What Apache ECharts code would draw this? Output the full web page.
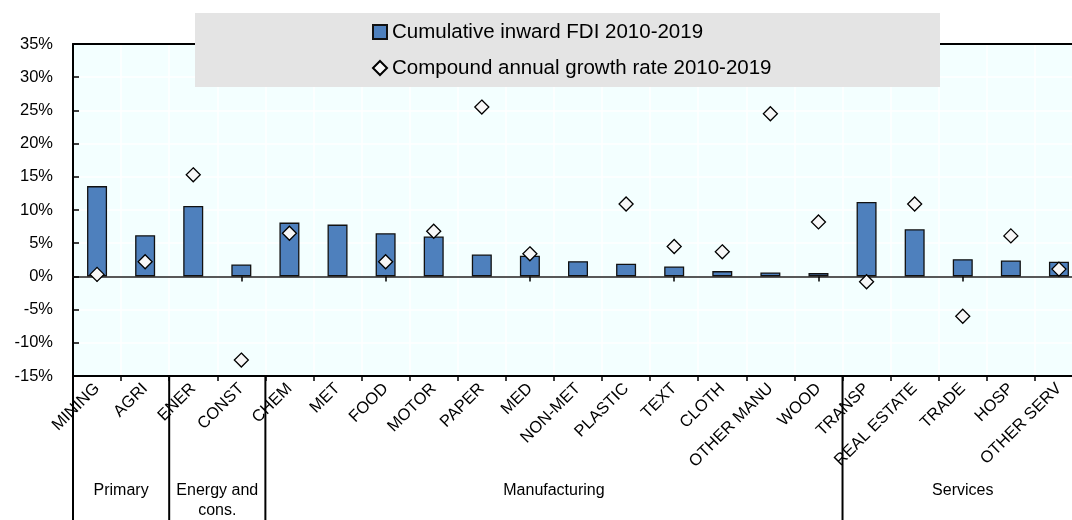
<!DOCTYPE html>
<html>
<head>
<meta charset="utf-8">
<script src="https://cdn.jsdelivr.net/npm/echarts@6/dist/echarts.min.js"></script>
<style>
  html, body { margin: 0; padding: 0; background: #fff; }
  #chart { width: 1072px; height: 520px; }
</style>
</head>
<body>
<div id="chart"></div>
<script>
// Sectors, grouped by broad activity
const categories = ['MINING', 'AGRI', 'ENER', 'CONST', 'CHEM', 'MET', 'FOOD', 'MOTOR', 'PAPER', 'MED',
  'NON-MET', 'PLASTIC', 'TEXT', 'CLOTH', 'OTHER MANU', 'WOOD', 'TRANSP', 'REAL ESTATE', 'TRADE', 'HOSP', 'OTHER SERV'];

// Share of cumulative inward FDI 2010-2019 (%)
const fdiShare = [13.6, 6.2, 10.6, 1.8, 8.1, 7.8, 6.5, 6.0, 3.3, 3.1,
  2.3, 1.9, 1.5, 0.8, 0.6, 0.5, 11.2, 7.1, 2.6, 2.4, 2.2];

// Compound annual growth rate 2010-2019 (%)
const cagr = [0.3, 2.2, 15.3, -12.6, 6.5, null, 2.2, 6.8, 25.5, 3.4,
  null, 10.9, 4.5, 3.7, 24.5, 8.2, -0.8, 10.9, -6.0, 6.1, 1.1];

// Sector groups: label and number of categories they span
const groupNames = ['Primary', 'Energy and\ncons.', 'Manufacturing', 'Services'];
const groupSizes = [2, 2, 12, 5];

const seriesNames = ['Cumulative inward FDI 2010-2019', 'Compound annual growth rate 2010-2019'];
const yMin = -15, yMax = 35, yStep = 5;

const FONT = "'Liberation Sans', Arial, sans-serif";
const BLUE = '#4E80BD';

const chart = echarts.init(document.getElementById('chart'), null, { renderer: 'canvas' });

const option = {
  animation: false,
  textStyle: { fontFamily: FONT, color: '#000' },
  grid: {
    left: 73, top: 44, width: 1010, height: 332,
    outerBoundsMode: 'none',
    show: true, backgroundColor: '#F3FFFF', borderWidth: 0
  },
  graphic: [{
    id: 'legendBox', type: 'rect', z: 3,
    shape: { x: 195, y: 13, width: 745, height: 74 },
    style: { fill: '#E4E4E4' }
  }],
  legend: {
    orient: 'vertical', left: 367, top: 16, z: 5,
    itemWidth: 14, itemHeight: 14, itemGap: 14,
    textStyle: { fontFamily: FONT, fontSize: 20.5, lineHeight: 22, color: '#000' },
    data: [
      { name: seriesNames[0], icon: 'rect' },
      { name: seriesNames[1], icon: 'diamond' }
    ]
  },
  xAxis: [{
    // category axis along the bottom edge, ticks on category boundaries
    type: 'category', data: categories, position: 'bottom',
    axisLine: { onZero: false, lineStyle: { color: '#000', width: 2 } },
    axisTick: { show: true, length: 5, lineStyle: { color: '#000', width: 1.5 } },
    axisLabel: { interval: 0, rotate: 45, fontFamily: FONT, fontSize: 16.5, color: '#000', margin: 10 },
    splitLine: { show: true, lineStyle: { color: '#fff', width: 1.5 } }
  }, {
    // baseline at 0% with ticks at category centres
    type: 'category', data: categories, position: 'top',
    axisLine: { onZero: true, lineStyle: { color: '#222', width: 1.5 } },
    axisTick: { show: true, inside: true, alignWithLabel: true, length: 5, lineStyle: { color: '#000', width: 1.5 } },
    axisLabel: { show: false },
    splitLine: { show: false }
  }, {
    // frame line along the top edge
    type: 'category', data: categories, position: 'top',
    axisLine: { onZero: false, lineStyle: { color: '#000', width: 2 } },
    axisTick: { show: false },
    axisLabel: { show: false },
    splitLine: { show: false }
  }],
  yAxis: {
    type: 'value', min: yMin, max: yMax, interval: yStep,
    axisLine: { show: true, lineStyle: { color: '#000', width: 2 } },
    axisTick: { show: true, inside: true, length: 6, lineStyle: { color: '#000', width: 1.5 } },
    axisLabel: { formatter: '{value}%', fontFamily: FONT, fontSize: 16.5, color: '#000', margin: 20 },
    splitLine: { show: true, lineStyle: { color: '#fff', width: 1.5 } }
  },
  series: [{
    name: seriesNames[0], type: 'bar', xAxisIndex: 0, data: fdiShare,
    barWidth: 20, z: 2,
    itemStyle: { color: BLUE, borderColor: '#111', borderWidth: 1.3 }
  }, {
    name: seriesNames[1], type: 'scatter', xAxisIndex: 0, data: cagr,
    symbol: 'diamond', symbolSize: 14, z: 3,
    itemStyle: { color: '#F7F7F7', borderColor: '#000', borderWidth: 1.3, opacity: 1 }
  }]
};

chart.setOption(option);

// Group separators and group labels below the category axis
const c0 = chart.convertToPixel({ xAxisIndex: 0 }, 0);
const c1 = chart.convertToPixel({ xAxisIndex: 0 }, 1);
const band = c1 - c0;
const axisBottom = chart.convertToPixel({ yAxisIndex: 0 }, yMin);
const extra = [];
let start = 0;
groupNames.forEach(function (name, i) {
  const left = c0 - band / 2 + start * band;
  const right = left + groupSizes[i] * band;
  extra.push({
    type: 'line', z: 4,
    shape: { x1: left, y1: axisBottom, x2: left, y2: 520 },
    style: { stroke: '#000', lineWidth: 2 }
  });
  extra.push({
    type: 'text', z: 4,
    x: (left + right) / 2, y: axisBottom + 105,
    style: { text: name, fontFamily: FONT, fontSize: 16, lineHeight: 20, fill: '#000', align: 'center', verticalAlign: 'top' }
  });
  start += groupSizes[i];
});
chart.setOption({ graphic: extra.map(function (g, i) { return Object.assign({ id: 'grp' + i }, g); }) });
</script>
</body>
</html>
